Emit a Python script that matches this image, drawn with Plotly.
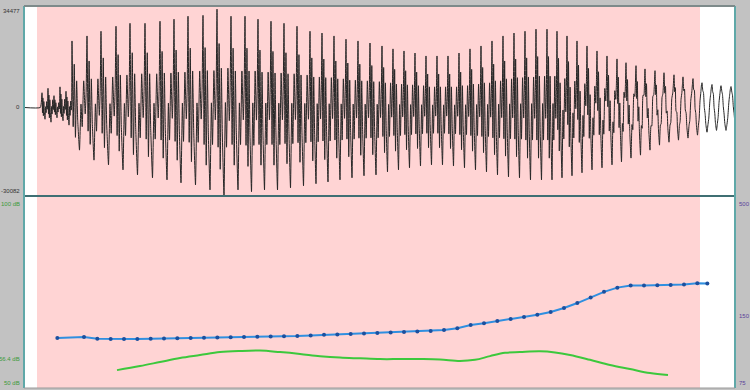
import math
import plotly.graph_objects as go

# ---------------- data ----------------
# glottal cycle onsets (s), positive peak and negative trough per cycle (sample units)
cycle_t = [0.0108, 0.0144, 0.0180, 0.0216, 0.0252,
           0.0288, 0.0378, 0.0462, 0.0552, 0.0636, 0.0726, 0.0816, 0.0900, 0.0984, 0.1074,
           0.1158, 0.1242, 0.1326, 0.1404, 0.1482, 0.1560, 0.1638, 0.1716, 0.1788, 0.1860,
           0.1932, 0.2004, 0.2076, 0.2148, 0.2214, 0.2280, 0.2346, 0.2412, 0.2478, 0.2544,
           0.2610, 0.2676, 0.2742, 0.2808, 0.2874, 0.2940, 0.3006, 0.3072, 0.3138, 0.3198,
           0.3258, 0.3318, 0.3378, 0.3438, 0.3498, 0.3558, 0.3612, 0.3672, 0.3726, 0.3786,
           0.3840, 0.3900, 0.3954, 0.4014, 0.4068, 0.4128, 0.4182, 0.4242]
cycle_top = [5000, 6500, 4000, 7000, 5500,
             22600, 24300, 25900, 27600, 28600, 28600, 29300, 30000, 31000, 31300,
             33400, 31000, 31000, 30000, 29300, 28600, 27600, 25900, 25300, 24300,
             23200, 22600, 21900, 20900, 19900, 19200, 18500, 17500, 17500, 17500,
             18500, 19900, 20900, 22600, 24300, 25300, 25900, 26600, 26600, 25900,
             24300, 22600, 20900, 19200, 17500, 16500, 15200, 14200, 13100, 12500,
             11800, 11100, 10400, 9800, 8400, 7800, 7400, 7100]
cycle_bot = [-4000, -5000, -3500, -4500, -6000,
             -14500, -17900, -19500, -21200, -22900, -23900, -24600, -25600, -26300, -28000,
             -30000, -28000, -28600, -28000, -28000, -27300, -26600, -25900, -25300, -24600,
             -23900, -23200, -22900, -21900, -21200, -20500, -19900, -19500, -19500, -19900,
             -20500, -21200, -21900, -22900, -23600, -23900, -24600, -24600, -24600, -23900,
             -23200, -22200, -21200, -20500, -19500, -18500, -17200, -16200, -14500, -12800,
             -11800, -11100, -10400, -9400, -8400, -7800, -7800, -7100]
cycle_ring = [1.0, 1.0, 1.0, 1.0, 1.0,
              1.0, 1.0, 1.0, 1.0, 1.0, 1.0, 1.0, 1.0, 1.0, 1.0,
              1.0, 1.0, 1.0, 1.0, 1.0, 1.0, 1.0, 1.0, 1.0, 1.0,
              1.0, 1.0, 1.0, 1.0, 1.0, 1.0, 1.0, 1.0, 1.0, 1.0,
              1.0, 1.0, 1.0, 1.0, 1.0, 1.0, 1.0, 1.0, 1.0, 0.9,
              0.85, 0.8, 0.75, 0.7, 0.65, 0.6, 0.55, 0.5, 0.45, 0.4,
              0.35, 0.3, 0.25, 0.2, 0.15, 0.15, 0.1, 0.1]

# pitch track (s, Hz)
pitch_t = [0.020, 0.036, 0.044, 0.052, 0.060, 0.068, 0.076, 0.084, 0.092,
           0.100, 0.108, 0.116, 0.124, 0.132, 0.140, 0.148, 0.156, 0.164, 0.172,
           0.180, 0.188, 0.196, 0.204, 0.212, 0.220, 0.228, 0.236, 0.244, 0.252,
           0.260, 0.268, 0.276, 0.284, 0.292, 0.300, 0.308, 0.316, 0.324, 0.332,
           0.340, 0.348, 0.356, 0.364, 0.372, 0.380, 0.388, 0.396, 0.404, 0.410]
pitch_hz = [119.3, 120.5, 118.5, 118.1, 118.1, 118.2, 118.3, 118.8, 119.0,
            119.3, 119.5, 120.0, 120.3, 120.5, 120.8, 121.2, 121.5, 121.8, 122.5,
            123.2, 123.8, 124.4, 125.0, 125.6, 126.3, 127.0, 127.6, 128.3, 129.5,
            132.0, 136.4, 139.0, 142.1, 145.1, 148.0, 151.5, 156.0, 162.5, 171.0,
            181.0, 192.0, 200.5, 205.0, 205.0, 205.5, 206.0, 207.0, 210.0, 209.0]

# intensity contour (s, dB)
inten_t = [0.0558, 0.0696, 0.0816, 0.0936, 0.1056, 0.1176, 0.1296, 0.1416, 0.1536, 0.1656,
           0.1776, 0.1896, 0.2016, 0.2136, 0.2256, 0.2376, 0.2496, 0.2616, 0.2706, 0.2796,
           0.2886, 0.2976, 0.3096, 0.3186, 0.3276, 0.3396, 0.3516, 0.3636, 0.3756, 0.3864]
inten_db = [53.5, 54.6, 55.7, 56.8, 57.6, 58.4, 58.7, 58.8, 58.4, 57.9,
            57.3, 56.9, 56.7, 56.5, 56.5, 56.5, 56.4, 56.0, 56.3, 57.3,
            58.2, 58.4, 58.6, 58.3, 57.6, 56.3, 54.9, 53.8, 52.7, 52.2]

t_end = 0.4266
sel_start, sel_end = 0.0078, 0.4056
wave_min, wave_max = -30082, 34477
pitch_min, pitch_max = 75, 500
db_min, db_max = 50, 100

# ---------------- waveform from cycles ----------------
# within-cycle shape: (phase, fraction of peak (+) or trough (-))
shape = [(0.00, 1.00), (0.08, -0.45), (0.15, 0.65), (0.23, -0.70), (0.31, 0.40),
         (0.38, -0.30), (0.50, -1.00), (0.60, 0.05), (0.68, -0.45), (0.78, 0.40),
         (0.88, -0.15), (0.94, 0.20)]

wx, wy = [0.0, cycle_t[0] - 0.001], [0.0, 0.0]
for i, t0 in enumerate(cycle_t):
    period = (cycle_t[i + 1] - t0) if i + 1 < len(cycle_t) else (t0 - cycle_t[i - 1])
    r = cycle_ring[i]
    for ph, frac in shape:
        smooth = math.cos(2 * math.pi * ph)
        f = r * frac + (1 - r) * smooth
        wx.append(t0 + ph * period)
        wy.append(f * cycle_top[i] if f >= 0 else -f * cycle_bot[i])
wx.append(t_end)
wy.append(wy[-1] * 0.5)

fig = go.Figure()
fig.add_trace(go.Scatter(x=wx, y=wy, mode="lines", yaxis="y",
                         line=dict(color="#262626", width=1, shape="spline", smoothing=0.4),
                         hoverinfo="skip"))
fig.add_trace(go.Scatter(x=inten_t, y=inten_db, mode="lines", yaxis="y3",
                         line=dict(color="#3cc83c", width=2, shape="spline"),
                         hoverinfo="skip"))
fig.add_trace(go.Scatter(x=pitch_t, y=pitch_hz, mode="lines+markers", yaxis="y2",
                         line=dict(color="#2f8fe0", width=2),
                         marker=dict(color="#1c4f9e", size=4),
                         hoverinfo="skip"))

split = (388 - 196) / 382
lo = (388 - 383) / 382
hi = (388 - 199) / 382

fig.update_layout(
    width=750, height=390,
    margin=dict(l=24, r=15, t=6, b=2),
    paper_bgcolor="#c2c2c2", plot_bgcolor="#ffffff",
    showlegend=False,
    xaxis=dict(range=[0, t_end], visible=False, fixedrange=True),
    yaxis=dict(domain=[split, 1], range=[wave_min, wave_max], visible=False),
    yaxis2=dict(domain=[lo, hi], type="log",
                range=[math.log10(pitch_min), math.log10(pitch_max)], visible=False),
    yaxis3=dict(domain=[lo, hi], range=[db_min, db_max], overlaying="y2",
                visible=False),
    shapes=[
        dict(type="rect", xref="paper", yref="paper", x0=0, x1=1, y0=0, y1=1,
             fillcolor="#ffffff", line=dict(width=0), layer="below"),
        dict(type="rect", xref="x", yref="paper", x0=sel_start, x1=sel_end, y0=0, y1=1,
             fillcolor="#ffd4d4", line=dict(width=0), layer="below"),
        dict(type="line", xref="paper", yref="paper", x0=0, x1=1, y0=split, y1=split,
             line=dict(color="#3f6f73", width=2)),
        dict(type="line", xref="paper", yref="paper", x0=0, x1=0, y0=0, y1=1,
             line=dict(color="#5fa8a8", width=2)),
        dict(type="line", xref="paper", yref="paper", x0=1, x1=1, y0=0, y1=1,
             line=dict(color="#5fa8a8", width=2)),
        dict(type="line", xref="paper", yref="paper", x0=0, x1=1, y0=1, y1=1,
             line=dict(color="#7d8a8a", width=2)),
        dict(type="line", xref="paper", yref="paper", x0=0, x1=1, y0=0, y1=0,
             line=dict(color="#9a9a9a", width=1)),
    ],
)

def label(text, x, y, yref, color, anchor="right", vanchor="middle"):
    fig.add_annotation(text=text, xref="paper", yref=yref, x=x, y=y,
                       xanchor=anchor, yanchor=vanchor, showarrow=False,
                       font=dict(family="Liberation Sans", size=6, color=color))

label("34477", -0.003, wave_max, "y", "#333333", vanchor="top")
label("0", -0.003, 0, "y", "#333333")
label("-30082", -0.003, wave_min, "y", "#333333", vanchor="bottom")
label("100 dB", -0.003, db_max, "y3", "#3a9a3a", vanchor="top")
label("56.4 dB", -0.003, 56.4, "y3", "#3a9a3a")
label("50 dB", -0.003, db_min, "y3", "#3a9a3a")
label("500", 1.003, math.log10(500), "y2", "#5a3f9a", "left", "top")
label("150", 1.003, math.log10(150), "y2", "#5a3f9a", "left")
label("75", 1.003, math.log10(75), "y2", "#5a3f9a", "left")

fig.write_html("out.html")
